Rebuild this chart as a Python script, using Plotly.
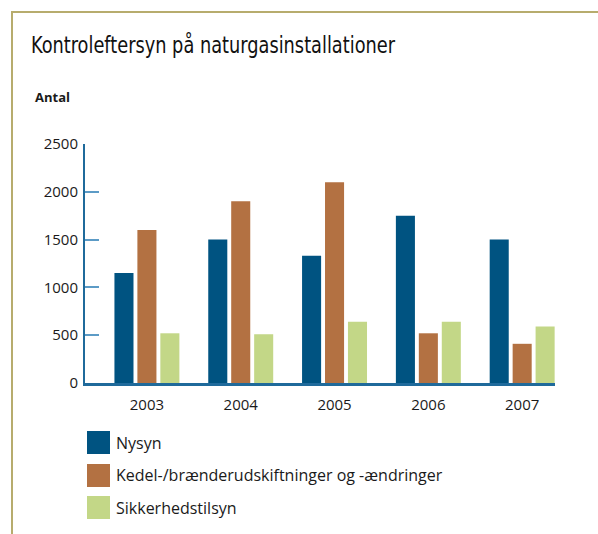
import plotly.graph_objects as go

years = ["2003", "2004", "2005", "2006", "2007"]
series_names = ["Nysyn", "Kedel-/brænderudskiftninger og -ændringer", "Sikkerhedstilsyn"]
nysyn = [1150, 1500, 1330, 1750, 1500]
kedel = [1600, 1900, 2100, 520, 410]
sikkerhed = [520, 510, 640, 640, 590]
colors = ["#005381", "#b37142", "#c3d787"]
y_ticks = [0, 500, 1000, 1500, 2000, 2500]

W, H = 598, 534
L, R, T, B = 85, 555, 144, 383


def px_x(px):
    return (px - L) / (R - L)


def px_y(py):
    return (B - py) / (B - T)


fig = go.Figure()
for name, vals, col in zip(series_names, [nysyn, kedel, sikkerhed], colors):
    fig.add_trace(go.Bar(x=years, y=vals, name=name, marker=dict(color=col, line=dict(width=0)),
                         showlegend=False))

font_main = "Open Sans, Noto Sans, sans-serif"

shapes = []
annotations = []
# frame
shapes.append(dict(type="line", xref="paper", yref="paper", x0=px_x(12), y0=px_y(540), x1=px_x(12), y1=px_y(12),
                   line=dict(color="#b7ac6d", width=2)))
shapes.append(dict(type="line", xref="paper", yref="paper", x0=px_x(11), y0=px_y(12), x1=px_x(600), y1=px_y(12),
                   line=dict(color="#b7ac6d", width=2)))

# legend (manual, large swatches)
legend_rows = [442.5, 475.5, 507.5]
for name, col, cy in zip(series_names, colors, legend_rows):
    shapes.append(dict(type="rect", xref="paper", yref="paper", x0=px_x(87), x1=px_x(110),
                       y0=px_y(cy + 11.5), y1=px_y(cy - 11.5), fillcolor=col, line=dict(width=0)))
    annotations.append(dict(text=name, xref="paper", yref="paper", x=px_x(114), y=px_y(cy),
                            xanchor="left", yanchor="middle", showarrow=False,
                            font=dict(family=font_main, size=16, color="#1a1a1a")))

annotations.append(dict(text="<b>Antal</b>", xref="paper", yref="paper", x=px_x(33), y=px_y(97),
                        xanchor="left", yanchor="middle", showarrow=False,
                        font=dict(family=font_main, size=13, color="#1a1a1a")))

fig.update_layout(
    width=W, height=H,
    margin=dict(l=L, r=W - R, t=T, b=H - B, pad=0),
    paper_bgcolor="white", plot_bgcolor="white",
    barmode="group", bargap=0.266, bargroupgap=0.17,
    showlegend=False,
    title=dict(text="Kontroleftersyn på naturgasinstallationer", x=31 / W, xanchor="left",
               y=1 - 45 / H, yanchor="middle", xref="container", yref="container",
               font=dict(family="DejaVu Sans Condensed, Liberation Sans Narrow, Roboto, sans-serif",
                         size=23, color="#111")),
    xaxis=dict(range=[-0.66, 4.35], showgrid=False, showline=True, linecolor="#1f6a9b", linewidth=3, ticks="",
               tickfont=dict(family=font_main, size=15, color="#1a1a1a"), ticklabelstandoff=6,
               zeroline=False),
    yaxis=dict(range=[0, 2500], tickvals=y_ticks, showgrid=False, showline=True, linecolor="#1f6a9b",
               linewidth=2, ticks="inside", ticklen=14, tickwidth=2, tickcolor="#5c9bc6",
               tickfont=dict(family=font_main, size=15, color="#1a1a1a"), ticklabelstandoff=2,
               zeroline=False),
    shapes=shapes, annotations=annotations,
)

post = """
document.body.style.margin='0';
document.body.style.overflow='hidden';
var t = document.querySelector('.gtitle');
if (t) { t.setAttribute('textLength', '364'); t.setAttribute('lengthAdjust', 'spacingAndGlyphs'); }
"""
fig.write_html("out.html", config={"displayModeBar": False}, post_script=post)
